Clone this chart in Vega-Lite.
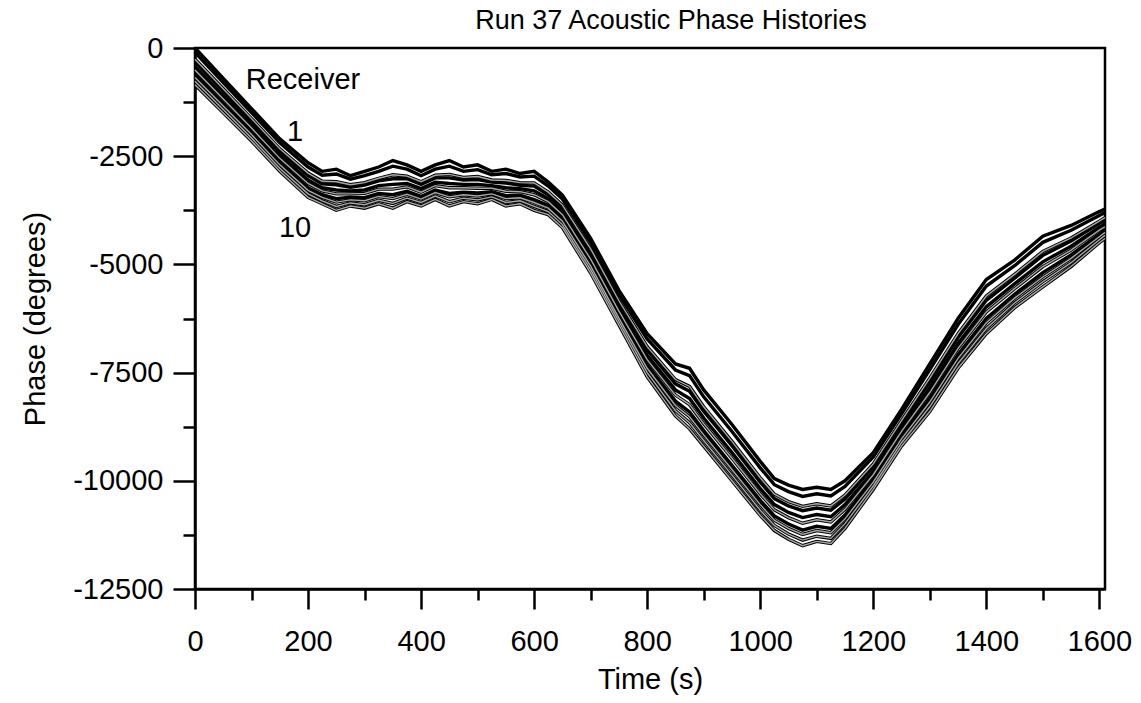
{
"$schema": "https://vega.github.io/schema/vega-lite/v6.json",
"width": 910, "height": 541,
"autosize": {"type": "none"},
"padding": {"left": 195, "top": 48, "right": 36, "bottom": 114},
"background": "white",
"config": {"font": "Liberation Sans", "view": {"stroke": "black", "strokeWidth": 2.5}},
"title": {"text": "Run 37 Acoustic Phase Histories", "fontSize": 27, "fontWeight": "normal", "color": "black", "offset": -1, "dx": 21, "anchor": "middle"},
"datasets": {"phase": [
{"t":0,"r":1,"p":0},{"t":0,"r":2,"p":-100},{"t":0,"r":3,"p":-260},{"t":0,"r":4,"p":-320},{"t":0,"r":5,"p":-430},{"t":0,"r":6,"p":-510},{"t":0,"r":7,"p":-610},{"t":0,"r":8,"p":-680},{"t":0,"r":9,"p":-770},{"t":0,"r":10,"p":-850},
{"t":50,"r":1,"p":-700},{"t":50,"r":2,"p":-800},{"t":50,"r":3,"p":-940},{"t":50,"r":4,"p":-1000},{"t":50,"r":5,"p":-1100},{"t":50,"r":6,"p":-1180},{"t":50,"r":7,"p":-1280},{"t":50,"r":8,"p":-1340},{"t":50,"r":9,"p":-1420},{"t":50,"r":10,"p":-1500},
{"t":100,"r":1,"p":-1400},{"t":100,"r":2,"p":-1490},{"t":100,"r":3,"p":-1630},{"t":100,"r":4,"p":-1690},{"t":100,"r":5,"p":-1780},{"t":100,"r":6,"p":-1850},{"t":100,"r":7,"p":-1940},{"t":100,"r":8,"p":-2000},{"t":100,"r":9,"p":-2080},{"t":100,"r":10,"p":-2150},
{"t":150,"r":1,"p":-2100},{"t":150,"r":2,"p":-2190},{"t":150,"r":3,"p":-2330},{"t":150,"r":4,"p":-2390},{"t":150,"r":5,"p":-2480},{"t":150,"r":6,"p":-2550},{"t":150,"r":7,"p":-2640},{"t":150,"r":8,"p":-2700},{"t":150,"r":9,"p":-2780},{"t":150,"r":10,"p":-2850},
{"t":200,"r":1,"p":-2650},{"t":200,"r":2,"p":-2750},{"t":200,"r":3,"p":-2890},{"t":200,"r":4,"p":-2950},{"t":200,"r":5,"p":-3050},{"t":200,"r":6,"p":-3130},{"t":200,"r":7,"p":-3230},{"t":200,"r":8,"p":-3290},{"t":200,"r":9,"p":-3370},{"t":200,"r":10,"p":-3450},
{"t":225,"r":1,"p":-2850},{"t":225,"r":2,"p":-2940},{"t":225,"r":3,"p":-3080},{"t":225,"r":4,"p":-3140},{"t":225,"r":5,"p":-3230},{"t":225,"r":6,"p":-3300},{"t":225,"r":7,"p":-3390},{"t":225,"r":8,"p":-3450},{"t":225,"r":9,"p":-3530},{"t":225,"r":10,"p":-3600},
{"t":250,"r":1,"p":-2800},{"t":250,"r":2,"p":-2910},{"t":250,"r":3,"p":-3090},{"t":250,"r":4,"p":-3160},{"t":250,"r":5,"p":-3280},{"t":250,"r":6,"p":-3370},{"t":250,"r":7,"p":-3480},{"t":250,"r":8,"p":-3560},{"t":250,"r":9,"p":-3660},{"t":250,"r":10,"p":-3750},
{"t":275,"r":1,"p":-2950},{"t":275,"r":2,"p":-3030},{"t":275,"r":3,"p":-3160},{"t":275,"r":4,"p":-3220},{"t":275,"r":5,"p":-3300},{"t":275,"r":6,"p":-3370},{"t":275,"r":7,"p":-3450},{"t":275,"r":8,"p":-3510},{"t":275,"r":9,"p":-3580},{"t":275,"r":10,"p":-3650},
{"t":300,"r":1,"p":-2850},{"t":300,"r":2,"p":-2950},{"t":300,"r":3,"p":-3110},{"t":300,"r":4,"p":-3170},{"t":300,"r":5,"p":-3280},{"t":300,"r":6,"p":-3360},{"t":300,"r":7,"p":-3460},{"t":300,"r":8,"p":-3530},{"t":300,"r":9,"p":-3620},{"t":300,"r":10,"p":-3700},
{"t":325,"r":1,"p":-2750},{"t":325,"r":2,"p":-2850},{"t":325,"r":3,"p":-3010},{"t":325,"r":4,"p":-3070},{"t":325,"r":5,"p":-3180},{"t":325,"r":6,"p":-3260},{"t":325,"r":7,"p":-3360},{"t":325,"r":8,"p":-3430},{"t":325,"r":9,"p":-3520},{"t":325,"r":10,"p":-3600},
{"t":350,"r":1,"p":-2600},{"t":350,"r":2,"p":-2730},{"t":350,"r":3,"p":-2930},{"t":350,"r":4,"p":-3020},{"t":350,"r":5,"p":-3150},{"t":350,"r":6,"p":-3260},{"t":350,"r":7,"p":-3390},{"t":350,"r":8,"p":-3480},{"t":350,"r":9,"p":-3590},{"t":350,"r":10,"p":-3700},
{"t":375,"r":1,"p":-2700},{"t":375,"r":2,"p":-2800},{"t":375,"r":3,"p":-2960},{"t":375,"r":4,"p":-3020},{"t":375,"r":5,"p":-3130},{"t":375,"r":6,"p":-3210},{"t":375,"r":7,"p":-3310},{"t":375,"r":8,"p":-3380},{"t":375,"r":9,"p":-3470},{"t":375,"r":10,"p":-3550},
{"t":400,"r":1,"p":-2850},{"t":400,"r":2,"p":-2950},{"t":400,"r":3,"p":-3090},{"t":400,"r":4,"p":-3150},{"t":400,"r":5,"p":-3250},{"t":400,"r":6,"p":-3330},{"t":400,"r":7,"p":-3430},{"t":400,"r":8,"p":-3490},{"t":400,"r":9,"p":-3570},{"t":400,"r":10,"p":-3650},
{"t":425,"r":1,"p":-2700},{"t":425,"r":2,"p":-2800},{"t":425,"r":3,"p":-2940},{"t":425,"r":4,"p":-3000},{"t":425,"r":5,"p":-3100},{"t":425,"r":6,"p":-3180},{"t":425,"r":7,"p":-3280},{"t":425,"r":8,"p":-3340},{"t":425,"r":9,"p":-3420},{"t":425,"r":10,"p":-3500},
{"t":450,"r":1,"p":-2600},{"t":450,"r":2,"p":-2730},{"t":450,"r":3,"p":-2920},{"t":450,"r":4,"p":-3000},{"t":450,"r":5,"p":-3130},{"t":450,"r":6,"p":-3230},{"t":450,"r":7,"p":-3360},{"t":450,"r":8,"p":-3440},{"t":450,"r":9,"p":-3550},{"t":450,"r":10,"p":-3650},
{"t":475,"r":1,"p":-2750},{"t":475,"r":2,"p":-2850},{"t":475,"r":3,"p":-2990},{"t":475,"r":4,"p":-3050},{"t":475,"r":5,"p":-3150},{"t":475,"r":6,"p":-3230},{"t":475,"r":7,"p":-3330},{"t":475,"r":8,"p":-3390},{"t":475,"r":9,"p":-3470},{"t":475,"r":10,"p":-3550},
{"t":500,"r":1,"p":-2700},{"t":500,"r":2,"p":-2810},{"t":500,"r":3,"p":-2970},{"t":500,"r":4,"p":-3040},{"t":500,"r":5,"p":-3150},{"t":500,"r":6,"p":-3240},{"t":500,"r":7,"p":-3350},{"t":500,"r":8,"p":-3420},{"t":500,"r":9,"p":-3510},{"t":500,"r":10,"p":-3600},
{"t":525,"r":1,"p":-2850},{"t":525,"r":2,"p":-2930},{"t":525,"r":3,"p":-3050},{"t":525,"r":4,"p":-3100},{"t":525,"r":5,"p":-3180},{"t":525,"r":6,"p":-3240},{"t":525,"r":7,"p":-3320},{"t":525,"r":8,"p":-3370},{"t":525,"r":9,"p":-3440},{"t":525,"r":10,"p":-3500},
{"t":550,"r":1,"p":-2800},{"t":550,"r":2,"p":-2900},{"t":550,"r":3,"p":-3060},{"t":550,"r":4,"p":-3120},{"t":550,"r":5,"p":-3230},{"t":550,"r":6,"p":-3310},{"t":550,"r":7,"p":-3410},{"t":550,"r":8,"p":-3480},{"t":550,"r":9,"p":-3570},{"t":550,"r":10,"p":-3650},
{"t":575,"r":1,"p":-2900},{"t":575,"r":2,"p":-2980},{"t":575,"r":3,"p":-3110},{"t":575,"r":4,"p":-3170},{"t":575,"r":5,"p":-3250},{"t":575,"r":6,"p":-3320},{"t":575,"r":7,"p":-3400},{"t":575,"r":8,"p":-3460},{"t":575,"r":9,"p":-3530},{"t":575,"r":10,"p":-3600},
{"t":600,"r":1,"p":-2850},{"t":600,"r":2,"p":-2960},{"t":600,"r":3,"p":-3120},{"t":600,"r":4,"p":-3190},{"t":600,"r":5,"p":-3300},{"t":600,"r":6,"p":-3390},{"t":600,"r":7,"p":-3500},{"t":600,"r":8,"p":-3570},{"t":600,"r":9,"p":-3660},{"t":600,"r":10,"p":-3750},
{"t":625,"r":1,"p":-3100},{"t":625,"r":2,"p":-3190},{"t":625,"r":3,"p":-3330},{"t":625,"r":4,"p":-3390},{"t":625,"r":5,"p":-3480},{"t":625,"r":6,"p":-3550},{"t":625,"r":7,"p":-3640},{"t":625,"r":8,"p":-3700},{"t":625,"r":9,"p":-3780},{"t":625,"r":10,"p":-3850},
{"t":650,"r":1,"p":-3400},{"t":650,"r":2,"p":-3490},{"t":650,"r":3,"p":-3630},{"t":650,"r":4,"p":-3690},{"t":650,"r":5,"p":-3780},{"t":650,"r":6,"p":-3850},{"t":650,"r":7,"p":-3940},{"t":650,"r":8,"p":-4000},{"t":650,"r":9,"p":-4080},{"t":650,"r":10,"p":-4150},
{"t":700,"r":1,"p":-4400},{"t":700,"r":2,"p":-4500},{"t":700,"r":3,"p":-4640},{"t":700,"r":4,"p":-4700},{"t":700,"r":5,"p":-4800},{"t":700,"r":6,"p":-4880},{"t":700,"r":7,"p":-4980},{"t":700,"r":8,"p":-5040},{"t":700,"r":9,"p":-5120},{"t":700,"r":10,"p":-5200},
{"t":750,"r":1,"p":-5600},{"t":750,"r":2,"p":-5700},{"t":750,"r":3,"p":-5840},{"t":750,"r":4,"p":-5900},{"t":750,"r":5,"p":-6000},{"t":750,"r":6,"p":-6080},{"t":750,"r":7,"p":-6180},{"t":750,"r":8,"p":-6240},{"t":750,"r":9,"p":-6320},{"t":750,"r":10,"p":-6400},
{"t":800,"r":1,"p":-6600},{"t":800,"r":2,"p":-6720},{"t":800,"r":3,"p":-6900},{"t":800,"r":4,"p":-6980},{"t":800,"r":5,"p":-7100},{"t":800,"r":6,"p":-7200},{"t":800,"r":7,"p":-7320},{"t":800,"r":8,"p":-7400},{"t":800,"r":9,"p":-7500},{"t":800,"r":10,"p":-7600},
{"t":850,"r":1,"p":-7300},{"t":850,"r":2,"p":-7440},{"t":850,"r":3,"p":-7660},{"t":850,"r":4,"p":-7760},{"t":850,"r":5,"p":-7900},{"t":850,"r":6,"p":-8020},{"t":850,"r":7,"p":-8160},{"t":850,"r":8,"p":-8260},{"t":850,"r":9,"p":-8380},{"t":850,"r":10,"p":-8500},
{"t":875,"r":1,"p":-7400},{"t":875,"r":2,"p":-7570},{"t":875,"r":3,"p":-7820},{"t":875,"r":4,"p":-7930},{"t":875,"r":5,"p":-8100},{"t":875,"r":6,"p":-8240},{"t":875,"r":7,"p":-8410},{"t":875,"r":8,"p":-8520},{"t":875,"r":9,"p":-8660},{"t":875,"r":10,"p":-8800},
{"t":900,"r":1,"p":-7900},{"t":900,"r":2,"p":-8060},{"t":900,"r":3,"p":-8290},{"t":900,"r":4,"p":-8390},{"t":900,"r":5,"p":-8550},{"t":900,"r":6,"p":-8680},{"t":900,"r":7,"p":-8840},{"t":900,"r":8,"p":-8940},{"t":900,"r":9,"p":-9070},{"t":900,"r":10,"p":-9200},
{"t":950,"r":1,"p":-8700},{"t":950,"r":2,"p":-8860},{"t":950,"r":3,"p":-9090},{"t":950,"r":4,"p":-9190},{"t":950,"r":5,"p":-9350},{"t":950,"r":6,"p":-9480},{"t":950,"r":7,"p":-9640},{"t":950,"r":8,"p":-9740},{"t":950,"r":9,"p":-9870},{"t":950,"r":10,"p":-10000},
{"t":1000,"r":1,"p":-9550},{"t":1000,"r":2,"p":-9700},{"t":1000,"r":3,"p":-9930},{"t":1000,"r":4,"p":-10030},{"t":1000,"r":5,"p":-10180},{"t":1000,"r":6,"p":-10300},{"t":1000,"r":7,"p":-10450},{"t":1000,"r":8,"p":-10550},{"t":1000,"r":9,"p":-10680},{"t":1000,"r":10,"p":-10800},
{"t":1025,"r":1,"p":-9950},{"t":1025,"r":2,"p":-10090},{"t":1025,"r":3,"p":-10310},{"t":1025,"r":4,"p":-10410},{"t":1025,"r":5,"p":-10550},{"t":1025,"r":6,"p":-10670},{"t":1025,"r":7,"p":-10810},{"t":1025,"r":8,"p":-10910},{"t":1025,"r":9,"p":-11030},{"t":1025,"r":10,"p":-11150},
{"t":1050,"r":1,"p":-10100},{"t":1050,"r":2,"p":-10250},{"t":1050,"r":3,"p":-10480},{"t":1050,"r":4,"p":-10580},{"t":1050,"r":5,"p":-10730},{"t":1050,"r":6,"p":-10850},{"t":1050,"r":7,"p":-11000},{"t":1050,"r":8,"p":-11100},{"t":1050,"r":9,"p":-11230},{"t":1050,"r":10,"p":-11350},
{"t":1075,"r":1,"p":-10200},{"t":1075,"r":2,"p":-10360},{"t":1075,"r":3,"p":-10590},{"t":1075,"r":4,"p":-10690},{"t":1075,"r":5,"p":-10850},{"t":1075,"r":6,"p":-10980},{"t":1075,"r":7,"p":-11140},{"t":1075,"r":8,"p":-11240},{"t":1075,"r":9,"p":-11370},{"t":1075,"r":10,"p":-11500},
{"t":1100,"r":1,"p":-10150},{"t":1100,"r":2,"p":-10300},{"t":1100,"r":3,"p":-10530},{"t":1100,"r":4,"p":-10630},{"t":1100,"r":5,"p":-10780},{"t":1100,"r":6,"p":-10900},{"t":1100,"r":7,"p":-11050},{"t":1100,"r":8,"p":-11150},{"t":1100,"r":9,"p":-11280},{"t":1100,"r":10,"p":-11400},
{"t":1125,"r":1,"p":-10200},{"t":1125,"r":2,"p":-10350},{"t":1125,"r":3,"p":-10580},{"t":1125,"r":4,"p":-10680},{"t":1125,"r":5,"p":-10830},{"t":1125,"r":6,"p":-10950},{"t":1125,"r":7,"p":-11100},{"t":1125,"r":8,"p":-11200},{"t":1125,"r":9,"p":-11330},{"t":1125,"r":10,"p":-11450},
{"t":1150,"r":1,"p":-10000},{"t":1150,"r":2,"p":-10130},{"t":1150,"r":3,"p":-10330},{"t":1150,"r":4,"p":-10420},{"t":1150,"r":5,"p":-10550},{"t":1150,"r":6,"p":-10660},{"t":1150,"r":7,"p":-10790},{"t":1150,"r":8,"p":-10880},{"t":1150,"r":9,"p":-10990},{"t":1150,"r":10,"p":-11100},
{"t":1200,"r":1,"p":-9350},{"t":1200,"r":2,"p":-9450},{"t":1200,"r":3,"p":-9610},{"t":1200,"r":4,"p":-9670},{"t":1200,"r":5,"p":-9780},{"t":1200,"r":6,"p":-9860},{"t":1200,"r":7,"p":-9960},{"t":1200,"r":8,"p":-10030},{"t":1200,"r":9,"p":-10120},{"t":1200,"r":10,"p":-10200},
{"t":1250,"r":1,"p":-8350},{"t":1250,"r":2,"p":-8450},{"t":1250,"r":3,"p":-8610},{"t":1250,"r":4,"p":-8670},{"t":1250,"r":5,"p":-8780},{"t":1250,"r":6,"p":-8860},{"t":1250,"r":7,"p":-8960},{"t":1250,"r":8,"p":-9030},{"t":1250,"r":9,"p":-9120},{"t":1250,"r":10,"p":-9200},
{"t":1300,"r":1,"p":-7300},{"t":1300,"r":2,"p":-7430},{"t":1300,"r":3,"p":-7630},{"t":1300,"r":4,"p":-7720},{"t":1300,"r":5,"p":-7850},{"t":1300,"r":6,"p":-7960},{"t":1300,"r":7,"p":-8090},{"t":1300,"r":8,"p":-8180},{"t":1300,"r":9,"p":-8290},{"t":1300,"r":10,"p":-8400},
{"t":1350,"r":1,"p":-6250},{"t":1350,"r":2,"p":-6390},{"t":1350,"r":3,"p":-6600},{"t":1350,"r":4,"p":-6690},{"t":1350,"r":5,"p":-6830},{"t":1350,"r":6,"p":-6940},{"t":1350,"r":7,"p":-7080},{"t":1350,"r":8,"p":-7170},{"t":1350,"r":9,"p":-7290},{"t":1350,"r":10,"p":-7400},
{"t":1400,"r":1,"p":-5350},{"t":1400,"r":2,"p":-5500},{"t":1400,"r":3,"p":-5730},{"t":1400,"r":4,"p":-5830},{"t":1400,"r":5,"p":-5980},{"t":1400,"r":6,"p":-6100},{"t":1400,"r":7,"p":-6250},{"t":1400,"r":8,"p":-6350},{"t":1400,"r":9,"p":-6480},{"t":1400,"r":10,"p":-6600},
{"t":1450,"r":1,"p":-4900},{"t":1450,"r":2,"p":-5030},{"t":1450,"r":3,"p":-5230},{"t":1450,"r":4,"p":-5320},{"t":1450,"r":5,"p":-5450},{"t":1450,"r":6,"p":-5560},{"t":1450,"r":7,"p":-5690},{"t":1450,"r":8,"p":-5780},{"t":1450,"r":9,"p":-5890},{"t":1450,"r":10,"p":-6000},
{"t":1500,"r":1,"p":-4350},{"t":1500,"r":2,"p":-4490},{"t":1500,"r":3,"p":-4700},{"t":1500,"r":4,"p":-4790},{"t":1500,"r":5,"p":-4940},{"t":1500,"r":6,"p":-5050},{"t":1500,"r":7,"p":-5190},{"t":1500,"r":8,"p":-5290},{"t":1500,"r":9,"p":-5400},{"t":1500,"r":10,"p":-5520},
{"t":1550,"r":1,"p":-4100},{"t":1550,"r":2,"p":-4210},{"t":1550,"r":3,"p":-4390},{"t":1550,"r":4,"p":-4460},{"t":1550,"r":5,"p":-4580},{"t":1550,"r":6,"p":-4670},{"t":1550,"r":7,"p":-4780},{"t":1550,"r":8,"p":-4860},{"t":1550,"r":9,"p":-4960},{"t":1550,"r":10,"p":-5050},
{"t":1600,"r":1,"p":-3780},{"t":1600,"r":2,"p":-3870},{"t":1600,"r":3,"p":-4000},{"t":1600,"r":4,"p":-4050},{"t":1600,"r":5,"p":-4140},{"t":1600,"r":6,"p":-4210},{"t":1600,"r":7,"p":-4300},{"t":1600,"r":8,"p":-4360},{"t":1600,"r":9,"p":-4430},{"t":1600,"r":10,"p":-4500},
{"t":1610,"r":1,"p":-3720},{"t":1610,"r":2,"p":-3800},{"t":1610,"r":3,"p":-3920},{"t":1610,"r":4,"p":-3980},{"t":1610,"r":5,"p":-4060},{"t":1610,"r":6,"p":-4130},{"t":1610,"r":7,"p":-4210},{"t":1610,"r":8,"p":-4260},{"t":1610,"r":9,"p":-4330},{"t":1610,"r":10,"p":-4400}
]},
"encoding": {
  "x": {"field": "t", "type": "quantitative", "scale": {"domain": [0, 1610], "nice": false, "zero": false},
    "axis": {"title": "Time (s)", "values": [0,100,200,300,400,500,600,700,800,900,1000,1100,1200,1300,1400,1500,1600],
      "labelExpr": "datum.value % 200 === 0 ? '' + datum.value : ''",
      "tickSize": {"condition": {"test": "datum.value % 200 === 0", "value": 20}, "value": 11},
      "tickWidth": 2.5, "tickColor": "black", "domainColor": "black", "domainWidth": 2.5,
      "labelFontSize": 29, "labelColor": "black", "labelPadding": 18, "labelFlush": false, "labelOverlap": false,
      "titleFontSize": 29, "titleFontWeight": "normal", "titleColor": "black", "titlePadding": 9, "grid": false}},
  "y": {"field": "p", "type": "quantitative", "scale": {"domain": [-12500, 0], "nice": false, "zero": false},
    "axis": {"title": "Phase (degrees)", "values": [0,-1250,-2500,-3750,-5000,-6250,-7500,-8750,-10000,-11250,-12500],
      "labelExpr": "datum.value % 2500 === 0 ? '' + datum.value : ''",
      "tickSize": {"condition": {"test": "datum.value % 2500 === 0", "value": 22}, "value": 12},
      "tickWidth": 2.5, "tickColor": "black", "domainColor": "black", "domainWidth": 2.5,
      "labelFontSize": 29, "labelColor": "black", "labelPadding": 10, "labelFlush": false, "labelOverlap": false,
      "titleFontSize": 29, "titleFontWeight": "normal", "titleColor": "black", "titlePadding": 22, "grid": false}}
},
"layer": [
  {"data": {"name": "phase"}, "mark": {"type": "line", "color": "black", "strokeWidth": 3.4},
   "encoding": {"detail": {"field": "r", "type": "nominal"}}},
  {"data": {"name": "phase"}, "transform": [{"filter": {"field": "r", "oneOf": [3, 6, 8, 9, 10]}}],
   "mark": {"type": "line", "color": "#a8a8a8", "strokeWidth": 1.4},
   "encoding": {"detail": {"field": "r", "type": "nominal"}}},
  {"data": {"values": [{"label": "Receiver", "tx": 191, "py": -740}, {"label": "1", "tx": 177, "py": -1940}, {"label": "10", "tx": 177, "py": -4160}]},
   "mark": {"type": "text", "fontSize": 29, "color": "black", "align": "center", "baseline": "middle"},
   "encoding": {"x": {"field": "tx", "type": "quantitative"}, "y": {"field": "py", "type": "quantitative"}, "text": {"field": "label"}}}
]
}
